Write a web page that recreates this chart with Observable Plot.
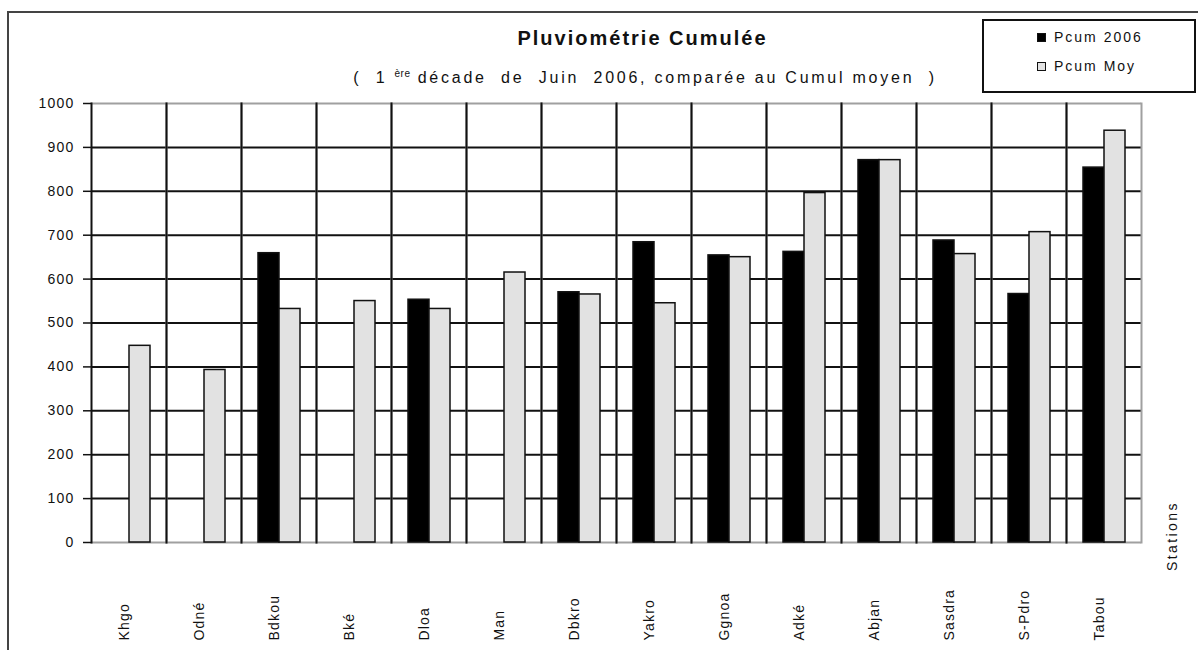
<!DOCTYPE html>
<html>
<head>
<meta charset="utf-8">
<script src="https://cdn.jsdelivr.net/npm/d3@7"></script>
<script src="https://cdn.jsdelivr.net/npm/@observablehq/plot@0.6"></script>
<style>
  html, body { margin: 0; padding: 0; background: #fff; }
  body { width: 1198px; height: 650px; position: relative; overflow: hidden; font-family: "Liberation Sans", Arial, sans-serif; color: #111; }
  #outer { position: absolute; left: 7px; top: 11px; width: 1400px; height: 900px; border: 2px solid #444; box-sizing: border-box; }
  #chart { position: absolute; left: 0; top: 0; }
  #chart svg text { letter-spacing: 1.2px; }
  .title { position: absolute; left: 0; width: 1285px; text-align: center; white-space: pre; }
  #t1 { top: 28px; font-size: 20px; line-height: 20px; font-weight: bold; letter-spacing: 2px; }
  #t2 { top: 70px; font-size: 16px; line-height: 16px; letter-spacing: 2.75px; width: 1290px; }
  #t2 sup { font-size: 10px; letter-spacing: 0.5px; vertical-align: 6px; line-height: 0; }
  #legend { position: absolute; left: 982px; top: 19px; width: 214px; height: 74px; border: 2px solid #111; box-sizing: border-box; background: #fff; }
  .sw { position: absolute; width: 9px; height: 9px; box-sizing: border-box; border: 1.5px solid #111; }
  .lt { position: absolute; font-size: 14px; line-height: 14px; letter-spacing: 2px; white-space: nowrap; }
  #stations { position: absolute; left: 1137px; top: 529px; width: 70px; text-align: center; font-size: 14px; line-height: 14px; letter-spacing: 2.4px; transform: rotate(-90deg); white-space: nowrap; }
</style>
</head>
<body>
<div id="outer"></div>
<div id="chart"></div>
<div class="title" id="t1">Pluviométrie Cumulée</div>
<div class="title" id="t2">(  1 <sup>ère</sup> décade  de  Juin  2006, comparée au Cumul moyen  )</div>
<div id="legend"></div>
<div id="stations">Stations</div>
<script>
const stations = ["Khgo", "Odné", "Bdkou", "Bké", "Dloa", "Man", "Dbkro", "Yakro", "Ggnoa", "Adké", "Abjan", "Sasdra", "S-Pdro", "Tabou"];
const series = ["Pcum 2006", "Pcum Moy"];
const pcum2006 = [null, null, 659, null, 553, null, 570, 684, 654, 662, 871, 688, 566, 854];
const pcumMoy = [448, 393, 532, 550, 532, 615, 565, 545, 650, 796, 871, 657, 707, 938];
const yTicks = [0, 100, 200, 300, 400, 500, 600, 700, 800, 900, 1000];
const innerGrid = [100, 200, 300, 400, 500, 600, 700, 800, 900];
const seriesColors = ["#000000", "#e2e2e2"];

const data = stations.flatMap((s, i) => [
  {station: s, series: series[0], value: pcum2006[i]},
  {station: s, series: series[1], value: pcumMoy[i]}
]).filter(d => d.value != null);

const chart = Plot.plot({
  width: 1198,
  height: 650,
  marginLeft: 90,
  marginRight: 57,
  marginTop: 103,
  marginBottom: 108,
  style: {fontFamily: "'Liberation Sans', Arial, sans-serif", fontSize: "14px", color: "#111", background: "transparent"},
  fx: {domain: stations, padding: 0, axis: null},
  x: {domain: series, paddingInner: 0, paddingOuter: 0.75, axis: null},
  y: {domain: [0, 1000], axis: null},
  color: {domain: series, range: seriesColors},
  marks: [
    Plot.ruleY(innerGrid, {stroke: "#111", strokeWidth: 2}),
    Plot.ruleY([0, 1000], {stroke: "#a0a0a0", strokeWidth: 2}),
    Plot.frame({anchor: "right", stroke: "#a0a0a0", strokeWidth: 2}),
    Plot.frame({anchor: "left", stroke: "#111", strokeWidth: 2}),
    Plot.barY(data, {fx: "station", x: "series", y: "value", fill: "series", stroke: "#111", strokeWidth: 1.5}),
    Plot.axisY(yTicks, {tickSize: 8, tickPadding: 9, fontSize: 14, stroke: "#111", strokeWidth: 1.5, label: null, tickFormat: d => String(d)}),
    Plot.text(stations, {fx: d => d, text: d => d, frameAnchor: "bottom", rotate: -90, textAnchor: "start", dy: 98, fontSize: 14, fill: "#111"})
  ]
});
document.getElementById("chart").appendChild(chart);

// legend built from the series list
const legend = document.getElementById("legend");
series.forEach((s, i) => {
  const sw = document.createElement("div");
  sw.className = "sw";
  sw.style.left = "53px";
  sw.style.top = (12 + i * 29) + "px";
  sw.style.background = seriesColors[i];
  legend.appendChild(sw);
  const t = document.createElement("div");
  t.className = "lt";
  t.style.left = "70px";
  t.style.top = (9 + i * 29) + "px";
  t.textContent = s;
  legend.appendChild(t);
});
</script>
</body>
</html>
